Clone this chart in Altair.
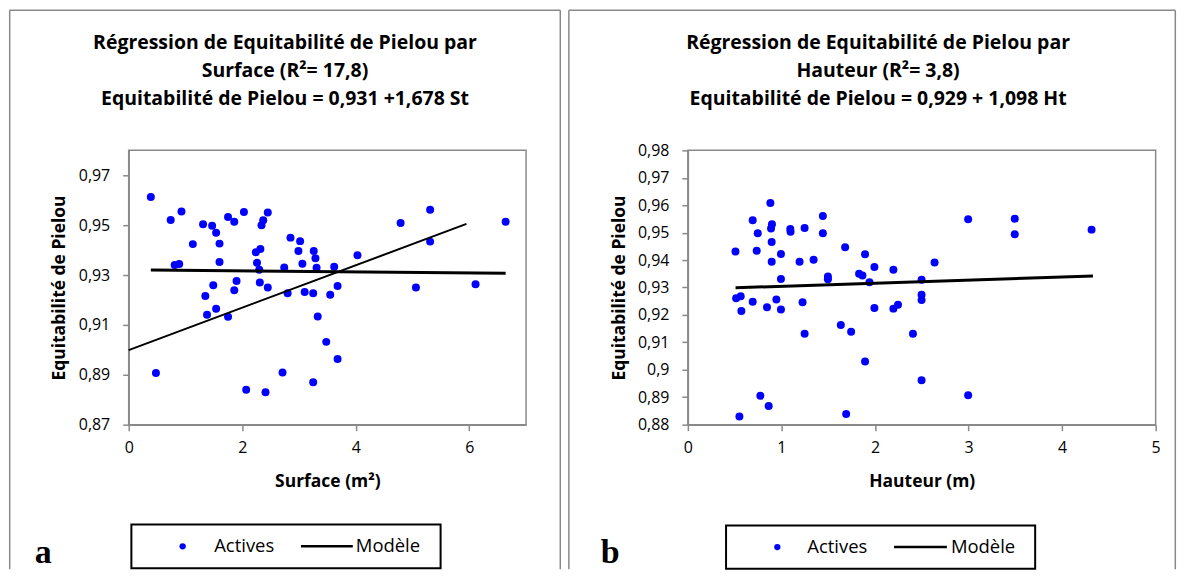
import altair as alt
import pandas as pd

GRAY = "#898989"
FONT = "Open Sans"

# ---- data ----
surface = [0.39, 0.74, 0.93, 0.48, 0.81, 0.89, 1.13, 1.31, 1.47, 1.54, 1.60, 1.60, 1.75, 1.86, 2.03,
           2.34, 2.37, 2.45, 2.24, 2.32, 2.26, 2.30, 1.90, 1.86, 1.49, 1.35, 1.54, 1.38, 1.75, 2.31,
           2.45, 2.07, 2.41, 2.71, 2.74, 2.85, 3.02, 2.99, 3.06, 2.80, 3.10, 3.25, 3.26, 3.29, 3.31,
           3.33, 3.25, 3.48, 3.62, 3.68, 3.55, 3.68, 4.03, 4.79, 5.31, 5.31, 6.64, 5.06, 6.11]
equit_s = [0.9613, 0.9521, 0.9555, 0.8907, 0.9340, 0.9344, 0.9424, 0.9504, 0.9498, 0.9470, 0.9426,
           0.9352, 0.9533, 0.9514, 0.9553, 0.9500, 0.9520, 0.9551, 0.9391, 0.9404, 0.9349, 0.9321,
           0.9276, 0.9239, 0.9259, 0.9216, 0.9165, 0.9141, 0.9133, 0.9270, 0.9250, 0.8840, 0.8830,
           0.8909, 0.9330, 0.9450, 0.9436, 0.9396, 0.9345, 0.9227, 0.9232, 0.9227, 0.9396, 0.9367,
           0.9329, 0.9134, 0.8870, 0.9032, 0.9333, 0.9256, 0.9221, 0.8963, 0.9379, 0.9509, 0.9562,
           0.9434, 0.9514, 0.9250, 0.9263]

hauteur = [0.509, 0.516, 0.565, 0.572, 0.693, 0.747, 0.736, 0.693, 0.882, 0.899, 0.889, 0.896, 0.896,
           0.995, 0.995, 0.846, 0.946, 0.995, 0.775, 0.864, 0.551, 1.095, 1.098, 1.248, 1.194, 1.344,
           1.226, 1.248, 1.443, 1.443, 1.497, 1.497, 1.681, 1.635, 1.745, 1.692, 1.830, 1.866, 1.894,
           1.941, 1.994, 1.994, 1.894, 2.197, 2.197, 2.246, 2.406, 2.498, 2.498, 2.498, 2.498, 2.637,
           2.996, 2.996, 3.494, 3.494, 4.315]
equit_h = [0.9431, 0.9261, 0.9268, 0.9214, 0.9545, 0.9498, 0.9434, 0.9248, 0.9608, 0.9531, 0.9515,
           0.9466, 0.9394, 0.9422, 0.9331, 0.9228, 0.9256, 0.9220, 0.8905, 0.8868, 0.8830, 0.9513,
           0.9503, 0.9517, 0.9394, 0.9401, 0.9246, 0.9131, 0.9561, 0.9498, 0.9340, 0.9330, 0.9447,
           0.9163, 0.9139, 0.8839, 0.9350, 0.9344, 0.9421, 0.9319, 0.9375, 0.9225, 0.9030, 0.9365,
           0.9223, 0.9237, 0.9131, 0.9328, 0.9274, 0.9254, 0.8962, 0.9391, 0.9549, 0.8907, 0.9551,
           0.9494, 0.9511]

model_s_x = [0.39, 6.64]
model_s_y = [0.9320, 0.9307]
trend_s_x = [0.0, 5.95]
trend_s_y = [0.8999, 0.9505]
model_h_x = [0.51, 4.33]
model_h_y = [0.9299, 0.9342]

titles_a = ["Régression de Equitabilité de Pielou par", "Surface (R²= 17,8)",
            "Equitabilité de Pielou = 0,931 +1,678 St"]
titles_b = ["Régression de Equitabilité de Pielou par", "Hauteur (R²= 3,8)",
            "Equitabilité de Pielou = 0,929 + 1,098 Ht"]
legend_labels = ["Actives", "Modèle"]
y_title = "Equitabilité de Pielou"
x_titles = ["Surface (m²)", "Hauteur (m)"]
letters = ["a", "b"]
x_ticks_a = [0, 2, 4, 6]
y_ticks_a = [0.87, 0.89, 0.91, 0.93, 0.95, 0.97]
x_ticks_b = [0, 1, 2, 3, 4, 5]
y_ticks_b = [0.88, 0.89, 0.90, 0.91, 0.92, 0.93, 0.94, 0.95, 0.96, 0.97, 0.98]

ONE = pd.DataFrame({"k": [0]})
LABEL_EXPR = "replace(format(datum.value, '~g'), '.', ',')"


def txt(t, x, y, size, weight="normal", align="left", baseline="alphabetic", font=FONT):
    return alt.Chart(ONE).mark_text(text=t, font=font, fontSize=size, fontWeight=weight,
                                    align=align, baseline=baseline, color="black").encode(
        x=alt.value(x), y=alt.value(y))


def rule(x1, x2, y1, y2, color=GRAY, width=1.5):
    return alt.Chart(ONE).mark_rule(color=color, strokeWidth=width).encode(
        x=alt.value(x1), x2=alt.value(x2), y=alt.value(y1), y2=alt.value(y2))


def panel(xs, ys, lines, xdom, xticks, ydom, yticks, W, H, xtitle, titles, title_cx,
          border_right, leg, letter, letter_x):
    pts = pd.DataFrame({"x": xs, "y": ys})
    xsc = alt.Scale(domain=xdom, nice=False, zero=False)
    ysc = alt.Scale(domain=ydom, nice=False, zero=False)

    def xax():
        return alt.Axis(values=xticks, labelExpr=LABEL_EXPR, title=xtitle, tickSize=6,
                        labelPadding=9, titleY=57, titleBaseline="middle",
                        labelFlush=False, labelOverlap=False)

    def yax():
        return alt.Axis(values=yticks, labelExpr=LABEL_EXPR, title=y_title, tickSize=6,
                        labelPadding=13, titleX=-69, titleBaseline="middle",
                        labelFlush=False, labelOverlap=False)

    scatter = alt.Chart(pts).mark_circle(size=64, color="#0000FF", opacity=1).encode(
        x=alt.X("x:Q", scale=xsc, axis=xax()),
        y=alt.Y("y:Q", scale=ysc, axis=yax()))
    layers = [scatter]
    for lx, ly, sw in lines:
        ldf = pd.DataFrame({"x": lx, "y": ly})
        layers.append(alt.Chart(ldf).mark_line(color="black", strokeWidth=sw).encode(
            x=alt.X("x:Q", scale=xsc, axis=xax()), y=alt.Y("y:Q", scale=ysc, axis=yax())))
    # outer frame (top, left, right; bottom is cut by the page)
    layers.append(rule(-119.3, border_right, -140.5, -140.5))
    layers.append(rule(-119.3, -119.3, -140.5, 420))
    layers.append(rule(border_right, border_right, -140.5, 420))
    # titles
    for i, t in enumerate(titles):
        layers.append(txt(t, title_cx, -101.5 + 28 * i, 19.5, weight="bold", align="center"))
    # legend box
    bx1, bx2, by1, by2, dotx, actx, lx1, lx2, modx = leg
    ly = (by1 + by2) / 2
    layers.append(alt.Chart(ONE).mark_rect(filled=False, stroke="black", strokeWidth=2).encode(
        x=alt.value(bx1), x2=alt.value(bx2), y=alt.value(by1), y2=alt.value(by2)))
    layers.append(alt.Chart(ONE).mark_circle(size=40, color="#0000FF", opacity=1).encode(
        x=alt.value(dotx), y=alt.value(ly)))
    layers.append(txt(legend_labels[0], actx, ly, 18.5, baseline="middle"))
    layers.append(rule(lx1, lx2, ly, ly, color="black", width=2.5))
    layers.append(txt(legend_labels[1], modx, ly, 18.5, baseline="middle"))
    layers.append(txt(letter, letter_x, 413.5, 34, weight="bold", font="Liberation Serif"))
    return alt.layer(*layers).properties(width=W, height=H)


H = 275
left = panel(surface, equit_s,
             [(model_s_x, model_s_y, 3), (trend_s_x, trend_s_y, 2)],
             [0, 7], x_ticks_a, [0.87, 0.98], y_ticks_a, 398.4, H, x_titles[0], titles_a,
             156.7, 432.7,
             (2.7, 312.7, 375, 419, 54.1, 85.7, 172.7, 224.7, 227.7), letters[0], -94.3)
right = panel(hauteur, equit_h,
              [(model_h_x, model_h_y, 3)],
              [0, 5], x_ticks_b, [0.88, 0.98], y_ticks_b, 469, H, x_titles[1], titles_b,
              190.7, 488.7,
              (38.3, 348.2, 376, 419.5, 89.7, 119.7, 206.7, 259.7, 263.7), letters[1], -87.3)

chart = alt.hconcat(left, right, spacing=161.6, bounds="flush").properties(
    padding=0
).configure_view(
    stroke=GRAY, strokeWidth=1.5
).configure_axis(
    grid=False, domainColor=GRAY, domainWidth=1.5, tickColor=GRAY, tickWidth=1.5,
    labelFont=FONT, labelFontSize=16, labelColor="black",
    titleFont=FONT, titleFontSize=17.5, titleFontWeight="bold", titleColor="black"
)

chart.save("out.html", embed_options={"renderer": "svg", "actions": False})
